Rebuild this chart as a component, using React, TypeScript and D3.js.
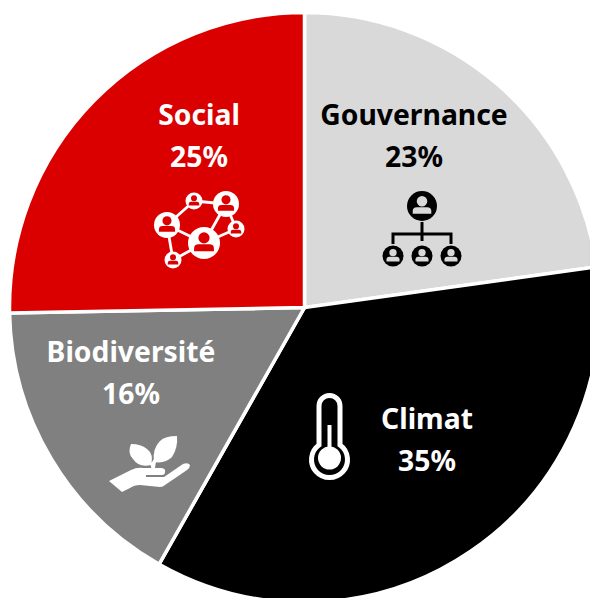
import React from "react";
import * as d3 from "d3";

const categories = ["Gouvernance", "Climat", "Biodiversité", "Social"];
const shares = [22.8, 35.4, 16.5, 25.3];
const shareLabels = ["23%", "35%", "16%", "25%"];
const colors = ["#d9d9d9", "#000000", "#808080", "#db0000"];
const textColors = ["#000000", "#ffffff", "#ffffff", "#ffffff"];
const labelPositions = [[414, 125], [427, 429], [131, 362], [199, 125]];

const W = 590, H = 598, CX = 304.5, CY = 307.5, R = 295;
const FONT = "'Noto Sans', sans-serif";

function Person({ x, y, r, bg, fg }: { x: number; y: number; r: number; bg: string; fg: string }) {
  return (
    <g transform={`translate(${x},${y}) scale(${r / 10})`}>
      <circle r={10} fill={fg} />
      <circle cy={-3.2} r={3.5} fill={bg} />
      <path d="M-6.2,5.2 L-6.2,3.4 Q-6.2,0.8 -3.4,0.8 L3.4,0.8 Q6.2,0.8 6.2,3.4 L6.2,5.2 Z" fill={bg} />
    </g>
  );
}

function NetworkIcon() {
  const fg = "#fff", bg = "#db0000";
  const nodes = [[194, 201, 8.5], [226, 204, 13], [167, 225, 13], [204, 243, 16], [236, 229, 8.5], [173, 260, 8.5]];
  const links = [[0, 1], [0, 2], [1, 3], [1, 4], [2, 3], [2, 5], [3, 4], [3, 5]];
  return (
    <g>
      {links.map(([a, b], i) => (
        <line key={i} x1={nodes[a][0]} y1={nodes[a][1]} x2={nodes[b][0]} y2={nodes[b][1]} stroke={fg} strokeWidth={2.8} />
      ))}
      {nodes.map(([x, y, r], i) => <Person key={i} x={x} y={y} r={r} fg={fg} bg={bg} />)}
    </g>
  );
}

function OrgIcon() {
  const fg = "#000", bg = "#d9d9d9";
  return (
    <g>
      <path d="M422,222 V241 M393,244 V234 H451 V244" fill="none" stroke={fg} strokeWidth={3} />
      <Person x={422} y={206} r={15} fg={fg} bg={bg} />
      <Person x={393} y={256} r={10.5} fg={fg} bg={bg} />
      <Person x={422} y={256} r={10.5} fg={fg} bg={bg} />
      <Person x={451} y={256} r={10.5} fg={fg} bg={bg} />
    </g>
  );
}

function ThermoIcon() {
  return (
    <g>
      <path d="M319,445 V406 A10.5,10.5 0 0 1 340,406 V445 A18,18 0 1 1 319,445 Z" fill="none" stroke="#fff" strokeWidth={5} />
      <circle cx={329.5} cy={458} r={11.5} fill="#fff" />
      <rect x={327.5} y={425} width={4} height={30} fill="#fff" />
    </g>
  );
}

function PlantIcon() {
  return (
    <g fill="#fff">
      <path d="M131,444 Q127,453 133,459 Q139,468 151,465 Q154,454 147,449 Q141,444 131,444 Z" />
      <path d="M177,436 Q165,436 160,441 Q152,449 154,462 Q165,464 172,457 Q178,448 177,436 Z" />
      <path d="M149,463 Q152,467 151,468 L155,468 Q155,463 158,458 L156,456 L152,462 Z" />
      <path d="M109,481 L131,470 Q137,467 143,468 L162,468 Q166,469 165,472 Q165,475 162,475 L146,475 L146,477 L164,477 L183,464 Q188,462 190,465 Q190,468 187,470 L165,485 Q163,487 160,487 L140,485 Q134,485 130,488 L122,492 Z" />
    </g>
  );
}

export default function App() {
  const pie = d3.pie<number>().value((d) => d).sort(null);
  const arc = d3.arc<d3.PieArcDatum<number>>().innerRadius(0).outerRadius(R);
  return (
    <svg width={W} height={H} viewBox={`0 0 ${W} ${H}`} style={{ position: "absolute", left: 0, top: 0, background: "#fff" }}>
      <g transform={`translate(${CX},${CY})`}>
        {pie(shares).map((d, i) => (
          <path key={categories[i]} d={arc(d) ?? ""} fill={colors[i]} stroke="#fff" strokeWidth={3.5} />
        ))}
      </g>
      {categories.map((c, i) => (
        <text key={c} textAnchor="middle" fontFamily={FONT} fontWeight={700} fontSize={28.3} fill={textColors[i]}>
          <tspan x={labelPositions[i][0]} y={labelPositions[i][1]}>{c}</tspan>
          <tspan x={labelPositions[i][0]} y={labelPositions[i][1] + 42}>{shareLabels[i]}</tspan>
        </text>
      ))}
      <OrgIcon />
      <ThermoIcon />
      <PlantIcon />
      <NetworkIcon />
    </svg>
  );
}
